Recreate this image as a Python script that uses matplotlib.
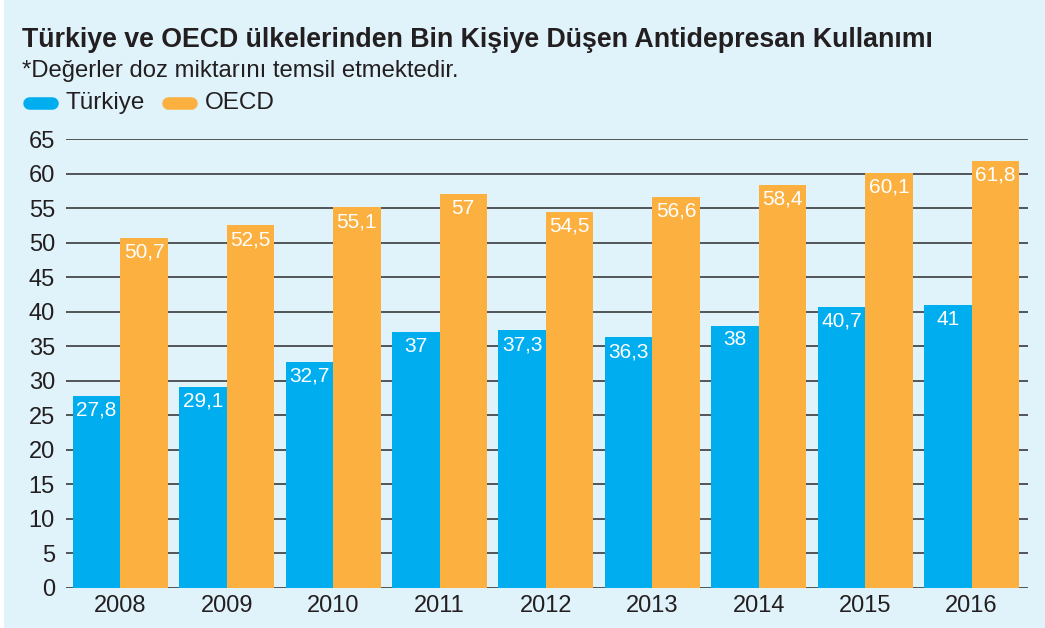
import matplotlib
matplotlib.use("Agg")
import matplotlib.pyplot as plt
import numpy as np
from matplotlib.lines import Line2D
from matplotlib.patches import Rectangle

years = ["2008", "2009", "2010", "2011", "2012", "2013", "2014", "2015", "2016"]
turkiye = [27.8, 29.1, 32.7, 37, 37.3, 36.3, 38, 40.7, 41]
oecd = [50.7, 52.5, 55.1, 57, 54.5, 56.6, 58.4, 60.1, 61.8]
turkiye_labels = ["27,8", "29,1", "32,7", "37", "37,3", "36,3", "38", "40,7", "41"]
oecd_labels = ["50,7", "52,5", "55,1", "57", "54,5", "56,6", "58,4", "60,1", "61,8"]
yticks = list(range(0, 70, 5))

BG = "#e0f2fa"
BLUE = "#00aeef"
ORANGE = "#fbb040"
TXT = "#231f20"

plt.rcParams['font.family'] = ['Liberation Sans', 'DejaVu Sans']

W, H = 1045, 628
fig = plt.figure(figsize=(W / 100, H / 100), dpi=100, facecolor=BG)
fig.patches.append(Rectangle((0, 0), 4 / W, 1, transform=fig.transFigure,
                             facecolor="white", edgecolor="none", zorder=0))

ax = fig.add_axes([66 / W, (H - 588) / H, (1028 - 66) / W, (588 - 139) / H])
ax.set_facecolor(BG)

x = np.arange(len(years))
bw = 0.446
ax.bar(x - bw / 2, turkiye, width=bw, color=BLUE, zorder=3)
ax.bar(x + bw / 2, oecd, width=bw, color=ORANGE, zorder=3)

for xi, v, lab in zip(x, turkiye, turkiye_labels):
    ax.text(xi - bw / 2, v - 0.7, lab, ha="center", va="top", color="white",
            fontsize=15, zorder=4)
for xi, v, lab in zip(x, oecd, oecd_labels):
    ax.text(xi + bw / 2, v - 0.7, lab, ha="center", va="top", color="white",
            fontsize=15, zorder=4)

ax.set_xlim(-0.51, 8.53)
ax.set_ylim(0, 65)
ax.set_yticks(yticks)
ax.set_yticklabels([str(t) for t in yticks], fontsize=17, color=TXT)
ax.set_xticks(x)
ax.set_xticklabels(years, fontsize=17, color=TXT)
ax.tick_params(axis="both", length=0)
ax.tick_params(axis="y", pad=8)
ax.tick_params(axis="x", pad=5)
for t in yticks:
    ax.axhline(t, color="#2b2b2b", linewidth=1.1, zorder=1)
for s in ax.spines.values():
    s.set_visible(False)

fig.text(22 / W, 1 - 40 / H, "Türkiye ve OECD ülkelerinden Bin Kişiye Düşen Antidepresan Kullanımı",
         fontsize=19.3, fontweight="bold", color=TXT, va="center", ha="left")
fig.text(22 / W, 1 - 71 / H, "*Değerler doz miktarını temsil etmektedir.",
         fontsize=17.2, color=TXT, va="center", ha="left")

ly = 1 - 103 / H
for x0, x1, col, lab, tx in [(29, 52, BLUE, "Türkiye", 66), (168, 191, ORANGE, "OECD", 205)]:
    fig.add_artist(Line2D([x0 / W, x1 / W], [ly, ly], transform=fig.transFigure,
                          color=col, linewidth=9, solid_capstyle="round"))
    fig.text(tx / W, ly, lab, fontsize=17.5, color=TXT, va="center", ha="left")

fig.savefig("out.png", dpi=100, facecolor=BG)
